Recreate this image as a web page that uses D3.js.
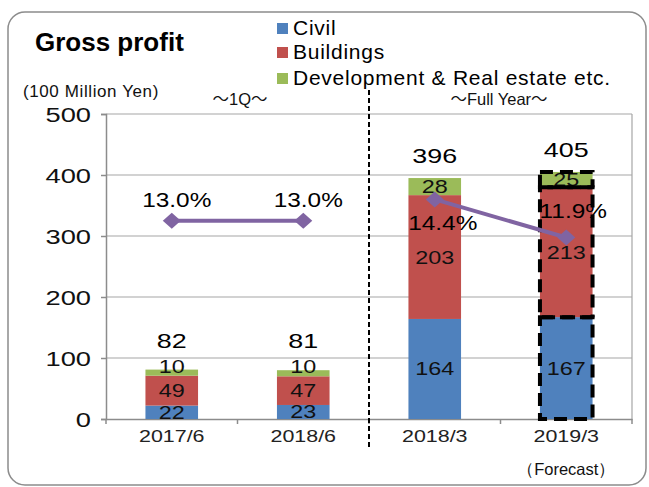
<!DOCTYPE html>
<html><head><meta charset="utf-8">
<script src="https://cdn.jsdelivr.net/npm/d3@7"></script>
<style>
html,body{margin:0;padding:0;background:#fff;}
svg{display:block;font-family:"Liberation Sans",Arial,sans-serif;}
</style></head>
<body>
<svg id="chart" width="649" height="487"></svg>
<script>
// ---- data ----
const categories = ["2017/6", "2018/6", "2018/3", "2019/3"];
const civil = [22, 23, 164, 167];
const buildings = [49, 47, 203, 213];
const development = [10, 10, 28, 25];
const totals = [82, 81, 396, 405];
const marginPct = ["13.0", "13.0", "14.4", "11.9"];
const seriesNames = ["Civil", "Buildings", "Development & Real estate etc."];
const yTicks = [0, 100, 200, 300, 400, 500];
const periodLabels = ["1Q", "Full Year"];
const titleText = "Gross profit";
const unitText = "(100 Million Yen)";
const forecastText = "（Forecast）";

// ---- layout / style ----
const colors = ["#4F81BD", "#C0504D", "#9BBB59"];
const lineColor = "#8064A2";
const plot = {left: 106, right: 632, top: 114, bottom: 419};

const svg = d3.select("#chart");

// widen glyphs horizontally (the original uses a wide gothic face)
function widen(sel, s) {
  sel.each(function() {
    const t = d3.select(this);
    const px = +t.attr("x") || 0, py = +t.attr("y") || 0;
    t.attr("x", 0).attr("y", 0).attr("transform", `translate(${px},${py}) scale(${s},1)`);
  });
}

// frame
svg.append("rect").attr("x", 8).attr("y", 12).attr("width", 638).attr("height", 473)
  .attr("rx", 17).attr("fill", "none").attr("stroke", "#8c8c8c").attr("stroke-width", 1.5);

const x = d3.scaleBand().domain(categories).range([plot.left, plot.right])
  .paddingInner(0.6).paddingOuter(0.3);
const y = d3.scaleLinear().domain([0, 500]).range([plot.bottom, plot.top]);
const yPct = d3.scaleLinear().domain([0, 20]).range([plot.bottom, plot.top]);
const cx = c => x(c) + x.bandwidth() / 2;

// gridlines
svg.append("g").selectAll("line").data(yTicks.filter(t => t > 0)).join("line")
  .attr("x1", plot.left).attr("x2", plot.right)
  .attr("y1", d => y(d)).attr("y2", d => y(d))
  .attr("stroke", "#a6a6a6").attr("stroke-width", 1.2);
// right border
svg.append("line").attr("x1", plot.right).attr("x2", plot.right)
  .attr("y1", plot.top).attr("y2", plot.bottom).attr("stroke", "#a6a6a6").attr("stroke-width", 1.2);

// y axis
const yAxis = svg.append("g").attr("transform", `translate(${plot.left},0)`)
  .call(d3.axisLeft(y).tickValues(yTicks).tickSize(5).tickPadding(10));
yAxis.select(".domain").attr("stroke", "#8c8c8c").attr("stroke-width", 1.5);
yAxis.selectAll(".tick line").attr("stroke", "#8c8c8c").attr("stroke-width", 1.5);
yAxis.selectAll(".tick text").attr("font-family", "Liberation Sans, Arial, sans-serif")
  .attr("font-size", 21).attr("fill", "#111").attr("dy", "0.36em")
  .attr("x", -15 / 1.3).attr("transform", "scale(1.3,1)");

// x axis
const xAxis = svg.append("g").attr("transform", `translate(0,${plot.bottom})`)
  .call(d3.axisBottom(x).tickSize(0).tickPadding(11));
xAxis.select(".domain").attr("stroke", "#8c8c8c").attr("stroke-width", 1.5);
xAxis.selectAll(".tick text").attr("font-family", "Liberation Sans, Arial, sans-serif")
  .attr("font-size", 16.5).attr("fill", "#222").attr("transform", "scale(1.3,1)");
// category boundary ticks
const boundaries = categories.map(c => x(c) - x.step() * x.paddingInner() / 2).concat([plot.right]);
svg.append("g").selectAll("line").data(boundaries).join("line")
  .attr("x1", d => d).attr("x2", d => d).attr("y1", plot.bottom).attr("y2", plot.bottom + 5)
  .attr("stroke", "#8c8c8c").attr("stroke-width", 1.5);

// stacked bars
const rows = categories.map((c, i) => ({cat: c, Civil: civil[i], Buildings: buildings[i], "Development & Real estate etc.": development[i]}));
const stacked = d3.stack().keys(seriesNames)(rows);
const layers = svg.append("g").selectAll("g").data(stacked).join("g")
  .attr("fill", (d, i) => colors[i]);
layers.selectAll("rect").data(d => d).join("rect")
  .attr("x", d => x(d.data.cat)).attr("width", x.bandwidth())
  .attr("y", d => y(d[1])).attr("height", d => y(d[0]) - y(d[1]));

// segment labels (thin segments: label sits slightly higher)
const segLabels = layers.selectAll("text").data(d => d.map(v => ({v, key: d.key}))).join("text")
  .attr("x", d => cx(d.v.data.cat))
  .attr("y", d => {
    const h = y(d.v[0]) - y(d.v[1]);
    return (y(d.v[0]) + y(d.v[1])) / 2 + (h < 10 ? 0 : 6.5);
  })
  .attr("text-anchor", "middle")
  .attr("font-size", 18).attr("fill", "#111")
  .text(d => d.v.data[d.key]);
widen(segLabels, 1.3);

// forecast dashed outline
const fc = categories[3];
svg.append("g").selectAll("rect").data(stacked.map(s => s[3])).join("rect")
  .attr("x", x(fc)).attr("width", x.bandwidth())
  .attr("y", d => y(d[1])).attr("height", d => y(d[0]) - y(d[1]))
  .attr("fill", "none").attr("stroke", "#000").attr("stroke-width", 4)
  .attr("stroke-dasharray", "13,7");

// totals
const totalOffset = [22, 22, 15, 15];
const totLabels = svg.append("g").selectAll("text").data(totals).join("text")
  .attr("x", (d, i) => cx(categories[i]))
  .attr("y", (d, i) => y(d3.sum([civil[i], buildings[i], development[i]])) - totalOffset[i])
  .attr("text-anchor", "middle").attr("font-size", 21)
  .attr("fill", "#000").text(d => d);
widen(totLabels, 1.28);

// margin line (two groups)
const groups = [[0, 1], [2, 3]];
const line = d3.line().x(i => cx(categories[i])).y(i => yPct(+marginPct[i]));
svg.append("g").selectAll("path").data(groups).join("path")
  .attr("d", line).attr("fill", "none").attr("stroke", lineColor).attr("stroke-width", 4);
svg.append("g").selectAll("path").data(categories).join("path")
  .attr("transform", (c, i) => `translate(${cx(c)},${yPct(+marginPct[i])})`)
  .attr("d", "M0,-8 L9,0 L0,8 L-9,0 Z").attr("fill", lineColor);
const pctOff = [[5, -14], [5, -14], [8, 31], [7, -20]];
const pctLabels = svg.append("g").selectAll("text").data(marginPct).join("text")
  .attr("x", (d, i) => cx(categories[i]) + pctOff[i][0])
  .attr("y", (d, i) => yPct(+d) + pctOff[i][1])
  .attr("text-anchor", "middle").attr("font-size", 20)
  .attr("fill", "#000").text(d => d + "%");
widen(pctLabels, 1.22);

// divider
svg.append("line").attr("x1", boundaries[2]).attr("x2", boundaries[2]).attr("y1", 90).attr("y2", 450)
  .attr("stroke", "#000").attr("stroke-width", 2).attr("stroke-dasharray", "5,3");

// titles
svg.append("text").attr("x", 35).attr("y", 51).attr("font-size", 26).attr("font-weight", "bold")
  .attr("fill", "#000").text(titleText);
svg.append("text").attr("x", 23).attr("y", 97).attr("font-size", 17).attr("letter-spacing", 0.6)
  .attr("fill", "#111").text(unitText);
function periodLabel(cxp, txt) {
  const t = svg.append("text").attr("x", cxp).attr("y", 105).attr("text-anchor", "middle")
    .attr("font-size", 16.5).attr("fill", "#111");
  t.append("tspan").attr("font-family", "Noto Sans CJK JP").text("～");
  t.append("tspan").text(txt);
  t.append("tspan").attr("font-family", "Noto Sans CJK JP").text("～");
}
periodLabel(240, periodLabels[0]);
periodLabel(499, periodLabels[1]);
svg.append("text").attr("x", cx(fc)).attr("y", 475).attr("text-anchor", "middle").attr("font-size", 16.5)
  .attr("fill", "#111").text(forecastText);

// legend
const legend = svg.append("g").selectAll("g").data(seriesNames).join("g")
  .attr("transform", (d, i) => `translate(277,${[35, 59, 85][i]})`);
legend.append("rect").attr("x", 0).attr("y", -12).attr("width", 11).attr("height", 11)
  .attr("fill", (d, i) => colors[i]);
legend.append("text").attr("x", 16).attr("y", 0).attr("font-size", 21).attr("letter-spacing", 0.75)
  .attr("fill", "#000").text(d => d);
</script>
</body></html>
